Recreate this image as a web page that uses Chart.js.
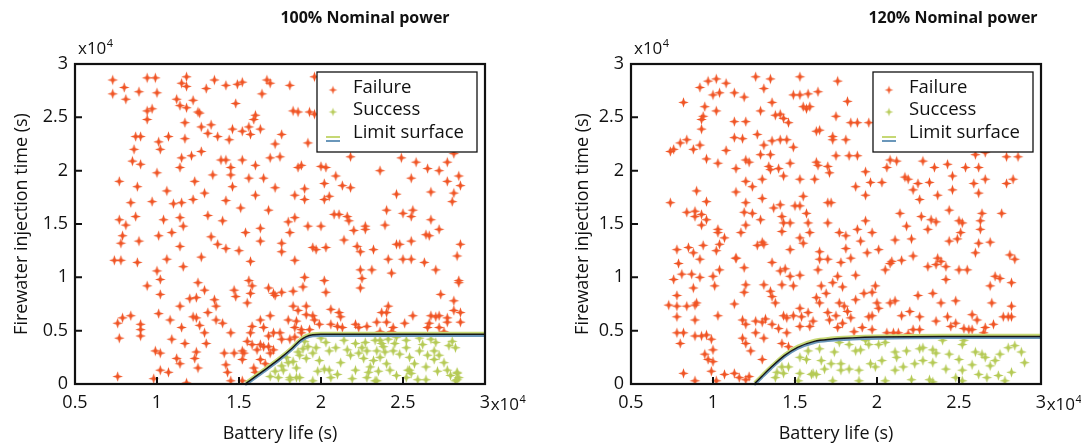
<!DOCTYPE html>
<html>
<head>
<meta charset="utf-8">
<script src="https://cdn.jsdelivr.net/npm/chart.js@4.4.1/dist/chart.umd.min.js"></script>
<style>
  html, body { margin: 0; padding: 0; background: #fff; }
  #wrap { position: relative; width: 1081px; height: 447px; }
  .panel { position: absolute; top: 0; height: 447px; }
</style>
</head>
<body>
<div id="wrap">
  <div class="panel" style="left:0;width:540px"><canvas id="c100"></canvas></div>
  <div class="panel" style="left:540px;width:541px"><canvas id="c120"></canvas></div>
</div>
<script>
// values in units of 1e4 s
const xTickValues = [0.5, 1, 1.5, 2, 2.5, 3];
const yTickValues = [0, 0.5, 1, 1.5, 2, 2.5, 3];
const panelTitles = ['100% Nominal power', '120% Nominal power'];
const seriesLabels = ['Failure', 'Success', 'Limit surface'];

const failure100 = [
  [0.73,2.85],[0.73,2.72],[0.80,2.78],[0.81,2.67],[0.89,2.74],[0.94,2.87],[0.99,2.87],[1.00,2.73],[1.12,2.67],[1.15,2.82],
  [1.18,2.88],[1.18,2.79],[1.14,2.61],[1.18,2.59],[1.22,2.66],[1.30,2.77],[1.35,2.85],[1.42,2.80],[1.48,2.63],[1.52,2.83],
  [1.49,2.81],[1.64,2.72],[1.67,2.85],[1.69,2.82],[1.81,2.80],[1.96,2.88],[1.83,2.56],[1.86,2.55],[1.93,2.55],[1.96,2.53],
  [0.94,2.56],[0.97,2.58],[0.94,2.48],[0.87,2.32],[0.90,2.32],[0.86,2.20],[1.01,2.27],[1.02,2.20],[1.07,2.32],[1.17,2.30],
  [1.17,2.45],[1.25,2.55],[1.26,2.54],[1.27,2.41],[1.33,2.43],[1.31,2.35],[1.37,2.32],[1.44,2.29],[1.46,2.39],[1.52,2.37],
  [1.56,2.41],[1.57,2.34],[1.59,2.48],[1.60,2.52],[1.63,2.39],[1.76,2.34],[1.72,2.25],[1.92,2.26],[1.21,2.14],[1.27,2.18],
  [1.15,2.12],[0.85,2.09],[0.90,2.06],[1.00,1.98],[1.14,2.03],[1.23,1.90],[1.39,2.10],[1.42,2.10],[1.45,2.03],[1.45,1.96],
  [1.52,2.10],[1.46,1.85],[1.34,1.96],[1.56,1.93],[1.60,2.05],[1.65,1.93],[1.69,2.12],[1.75,2.13],[1.72,1.84],[1.86,2.03],
  [1.88,2.05],[2.00,2.04],[2.03,2.03],[2.09,1.95],[2.02,1.88],[2.13,1.86],[2.18,1.84],[2.18,2.13],[2.36,2.00],[2.49,2.12],
  [2.58,2.08],[2.55,1.93],[2.65,2.02],[2.72,2.00],[2.77,2.08],[2.81,2.16],[2.84,1.95],[2.85,1.86],[2.77,1.90],[2.81,1.79],
  [2.80,1.71],[2.67,1.80],[2.46,1.78],[0.77,1.90],[0.88,1.85],
  [0.84,1.70],[0.97,1.71],[1.06,1.81],[1.10,1.69],[1.15,1.70],[1.22,1.73],[1.29,1.79],[1.42,1.72],[1.51,1.65],[1.60,1.77],
  [1.68,1.63],[1.84,1.77],[1.90,1.83],[1.90,1.73],[2.02,1.73],[2.05,1.76],[2.08,1.59],[2.11,1.59],[2.16,1.57],[2.17,1.53],
  [2.20,1.44],[2.27,1.45],[2.27,1.48],[2.40,1.63],[2.39,1.49],[2.50,1.60],[2.55,1.57],[2.56,1.63],[2.67,1.54],[2.72,1.45],
  [2.64,1.40],[2.66,1.39],[2.55,1.34],[2.46,1.31],[2.48,1.31],[2.85,1.31],[0.77,1.54],[0.81,1.49],[0.87,1.57],[0.79,1.39],
  [0.78,1.32],[0.89,1.34],[1.01,1.39],[1.04,1.54],[1.09,1.42],[1.14,1.56],[1.16,1.48],[1.14,1.29],[1.31,1.58],[1.33,1.38],
  [1.37,1.31],[1.40,1.53],[1.42,1.27],[1.50,1.25],[1.54,1.42],[1.63,1.46],[1.63,1.34],[1.76,1.32],[1.76,1.24],[1.80,1.52],
  [1.84,1.56],[1.81,1.42],[1.92,1.48],[2.00,1.48],[1.95,1.28],[1.97,1.26],[2.03,1.28],[2.14,1.35],[2.22,1.29],[2.24,1.24],
  [2.32,1.26],[2.24,1.07],[2.31,1.07],[2.41,1.17],[2.43,1.04],[2.50,1.17],[2.55,1.17],[2.63,1.14],[2.70,1.07],[2.83,1.20],
  [2.25,0.99],[2.24,0.90],[0.74,1.16],[0.78,1.16],[0.88,1.14],[1.06,1.17],[1.16,1.10],[1.27,1.19],[1.57,1.15],[1.84,1.16],
  [1.00,1.06],[1.02,0.98],[1.02,0.84],[0.94,0.92],[1.20,0.80],[1.24,0.81],[1.25,0.95],[1.29,0.88],[1.14,0.73],[1.35,0.79],
  [1.36,0.73],[1.47,0.88],[1.48,0.82],[1.56,0.97],[1.58,0.92],[1.57,0.85],[1.55,0.76],[1.68,0.90],[1.71,0.85],[1.72,0.83],
  [1.76,0.86],[1.83,0.87],[1.90,1.00],[1.89,0.91],[2.02,0.97],[2.03,0.86],[1.83,0.73],[1.86,0.69],[1.91,0.73],[1.91,0.65],
  [1.95,0.64],[1.96,0.60],[2.41,0.73],[2.37,0.67],[2.40,0.67],[2.73,0.84],[2.81,0.78],[2.81,0.69],[2.84,0.97],[2.84,0.95],
  [2.67,0.64],[2.70,0.63],[2.72,0.64],[2.85,0.67],[2.77,0.62],[2.56,0.64],[2.11,0.67],[2.12,0.63],[2.06,0.70],
  [0.76,0.57],[0.79,0.62],[0.84,0.64],[0.90,0.56],[0.90,0.51],[0.90,0.45],[0.77,0.43],[1.01,0.66],[1.08,0.60],[1.09,0.42],
  [1.15,0.53],[1.17,0.38],[1.22,0.63],[1.24,0.62],[1.26,0.55],[1.29,0.48],[1.31,0.67],[1.36,0.60],[1.40,0.57],[1.45,0.48],
  [1.57,0.48],[1.58,0.54],[1.63,0.60],[1.69,0.64],[1.65,0.53],[1.68,0.45],[1.71,0.48],[1.75,0.48],[1.80,0.60],[1.85,0.59],
  [1.84,0.53],[1.88,0.51],[1.88,0.48],[1.93,0.51],[1.99,0.56],[2.06,0.56],[2.10,0.54],[2.13,0.53],[2.21,0.56],[2.23,0.53],
  [2.28,0.54],[2.34,0.58],[2.40,0.58],[2.44,0.53],[2.51,0.57],[2.65,0.53],[2.66,0.57],[2.77,0.58],[2.85,0.58],[2.72,0.53],
  [2.43,0.49],[2.36,0.49],[2.75,0.49],
  [0.99,0.31],[1.02,0.29],[1.12,0.24],[1.14,0.19],[1.02,0.13],[1.07,0.11],[0.98,0.05],[0.76,0.07],[1.18,0.01],[1.24,0.30],
  [1.23,0.24],[1.25,0.15],[1.30,0.38],[1.41,0.29],[1.42,0.18],[1.43,0.11],[1.45,0.03],[1.47,0.29],[1.52,0.31],[1.53,0.29],
  [1.52,0.23],[1.55,0.40],[1.58,0.37],[1.61,0.32],[1.63,0.37],[1.65,0.35],[1.68,0.35],[1.69,0.29],[1.71,0.32],[1.63,0.23],
  [1.66,0.19],[1.59,0.15],[1.60,0.11],[1.52,0.03],[1.76,0.42],[1.81,0.42],[1.84,0.44]
];

const success100 = [
  [1.79,0.25],[1.86,0.30],[1.87,0.27],[1.95,0.29],[2.03,0.39],[2.05,0.31],[1.99,0.22],[2.02,0.14],[2.05,0.13],[1.87,0.06],
  [1.81,0.06],[1.95,0.03],[2.16,0.32],[2.18,0.27],[2.21,0.13],[2.26,0.24],[2.28,0.31],[2.29,0.11],[2.27,0.39],[2.33,0.41],
  [2.34,0.31],[2.36,0.25],[2.36,0.41],[2.32,0.22],[2.44,0.31],[2.45,0.38],[2.52,0.41],[2.52,0.34],[2.54,0.25],[2.53,0.13],
  [2.52,0.06],[2.59,0.04],[2.60,0.31],[2.65,0.27],[2.69,0.31],[2.69,0.23],[2.70,0.39],[2.78,0.36],[2.82,0.34],[2.77,0.13],
  [2.83,0.11],[2.84,0.06],[2.82,0.03],[2.64,0.16],[2.42,0.13],[2.34,0.03],[2.21,0.38],[2.09,0.34],[1.92,0.35],[1.80,0.20],
  [1.77,0.13],[2.40,0.19],[2.46,0.44],[2.60,0.43],[2.06,0.06],[2.28,0.06],[1.76,0.17],[1.74,0.06],[1.72,0.12],[1.81,0.04],
  [1.85,0.15],[1.85,0.06],[1.69,0.07],[1.83,0.21],[1.90,0.40],[1.91,0.24],[1.89,0.33],[2.54,0.13],[2.55,0.10],[2.83,0.10],
  [2.83,0.04],[2.33,0.03],[2.64,0.04],[2.12,0.20],[2.38,0.35],[2.48,0.28],[2.75,0.20],[2.30,0.16],
  [2.23,0.29],[2.25,0.34],[2.37,0.38],[2.39,0.30],[2.41,0.42],[2.62,0.37],[2.67,0.42],[2.72,0.27],[2.80,0.40],[2.14,0.41],
  [1.98,0.12],[2.10,0.09],[2.19,0.05],[2.46,0.08],[2.57,0.19],[2.71,0.12],[2.79,0.08],[2.35,0.12],[2.00,0.43],[1.97,0.34]
];

const failure120 = [
  [0.97,2.84],[1.02,2.86],[1.08,2.82],[0.92,2.78],[1.00,2.71],[1.04,2.73],[0.82,2.64],[0.95,2.60],[0.94,2.51],[0.93,2.48],
  [0.93,2.39],[1.02,2.56],[1.26,2.88],[1.35,2.86],[1.31,2.77],[1.13,2.73],[1.19,2.69],[1.36,2.64],[1.29,2.56],[1.38,2.52],
  [1.43,2.49],[1.41,2.53],[1.46,2.45],[1.49,2.71],[1.53,2.88],[1.53,2.71],[1.58,2.72],[1.64,2.74],[1.55,2.60],[1.59,2.60],
  [1.57,2.58],[1.76,2.84],[1.82,2.65],[1.75,2.51],[1.84,2.45],[1.88,2.45],[1.63,2.37],[1.65,2.38],[1.73,2.32],[1.73,2.29],
  [1.81,2.29],[1.95,2.45],[0.76,2.20],[0.80,2.26],[0.84,2.29],[0.74,2.18],[0.88,2.20],[0.92,2.24],[0.96,2.11],[1.03,2.07],
  [1.08,2.19],[1.13,2.31],[1.18,2.30],[1.13,2.46],[1.20,2.46],[1.14,2.02],[1.20,2.10],[1.22,2.08],[1.27,2.34],[1.29,2.15],
  [1.31,2.24],[1.35,2.15],[1.36,2.28],[1.41,2.29],[1.45,2.29],[1.49,2.22],[1.34,2.04],[1.35,2.01],[1.40,2.02],[1.47,2.07],
  [1.43,1.95],[1.53,1.92],[1.62,1.92],[1.63,2.08],[1.64,2.05],[1.70,2.04],[1.71,1.98],[1.75,2.14],[1.83,2.14],[1.88,2.14],
  [1.87,1.85],[1.93,1.77],[1.93,1.99],[1.96,1.89],[2.03,1.89],[2.06,2.03],[2.08,2.10],[2.12,2.09],[2.17,1.94],[2.19,1.92],
  [2.25,1.88],[2.32,1.89],[2.22,1.82],[2.28,2.09],[2.35,2.03],[2.43,2.06],[2.46,1.95],[2.46,1.82],[2.37,1.77],[2.54,2.03],
  [2.62,2.03],[2.59,1.88],[2.66,1.92],[2.62,1.79],[2.79,1.88],[2.83,1.92],[2.79,2.13],[2.86,2.13],[2.60,2.15],[2.66,2.17],
  [2.26,1.73],[0.74,1.70],[0.84,1.61],[0.89,1.62],[0.89,1.57],[0.93,1.59],[0.90,1.81],[0.96,1.71],[0.96,1.54],[0.93,1.49],
  [1.03,1.45],[1.03,1.42],[1.07,1.37],[1.04,1.31],[1.02,1.25],[0.94,1.30],[0.78,1.26],[0.85,1.28],[0.88,1.23],[0.92,1.17],
  [0.79,1.13],[0.81,1.03],[0.87,1.03],[0.92,1.00],[0.88,0.90],[0.76,0.98],[0.78,0.83],[0.73,0.74],[0.78,0.73],[0.84,0.73],
  [0.89,0.74],[0.90,0.76],[0.78,0.63],[0.89,0.60],[0.78,0.48],[0.82,0.48],[0.80,0.38],[0.89,0.45],[0.93,0.45],[0.96,0.46],
  [0.99,0.42],[0.95,0.28],[0.97,0.23],[1.00,0.32],[1.00,0.21],[0.99,0.12],[1.07,0.09],[1.02,0.03],[0.89,0.03],[0.82,0.10],
  [1.13,0.10],[1.16,0.06],[1.22,0.07],[1.20,0.04],[1.00,1.01],[1.01,0.92],[1.04,1.07],[1.14,1.18],[1.19,1.09],[1.13,0.75],
  [1.03,0.64],[1.20,0.93],[1.19,0.86],[1.18,0.60],[1.18,0.43],[1.20,0.38],[1.23,0.31],[1.26,0.48],[1.26,0.59],[1.20,0.56],
  [1.30,0.58],[1.32,0.61],[1.30,0.23],[1.31,0.43],[1.27,1.30],[1.30,1.33],[1.36,1.14],[1.31,0.93],[1.35,0.87],[1.36,0.82],
  [1.41,1.06],[1.42,0.93],[1.47,1.01],[1.44,1.08],[1.53,1.02],[1.49,0.92],[1.38,0.76],[1.36,0.56],[1.40,0.52],[1.45,0.62],
  [1.43,0.64],[1.45,0.48],[1.42,0.38],[1.46,0.35],[1.49,0.64],[1.53,0.71],[1.54,0.63],[1.53,0.54],[1.58,0.67],[1.59,0.54],
  [1.61,0.59],[1.63,0.81],[1.65,0.76],[1.69,0.85],[1.70,0.67],[1.71,0.60],[1.75,0.64],[1.77,0.76],[1.79,0.57],[1.80,0.73],
  [1.82,0.68],[1.76,0.53],[1.84,0.62],[1.86,0.49],[1.91,0.53],[1.87,0.79],[1.92,0.85],[1.97,0.86],[1.99,0.92],[2.00,0.76],
  [1.95,0.63],[1.97,0.64],[2.01,0.71],[2.08,0.76],[2.11,0.78],[2.15,0.64],[2.20,0.68],[2.22,0.51],[2.26,0.51],[2.19,0.47],
  [2.13,0.48],[2.34,0.85],[2.39,0.76],[2.36,0.59],[2.42,0.98],[2.50,1.07],[2.55,1.07],[2.48,0.78],[2.45,0.54],[2.56,0.51],
  [2.58,0.65],[2.61,0.60],[2.71,0.56],[2.70,0.76],[2.69,0.92],[2.72,1.01],[2.75,0.99],[2.82,0.95],[2.82,0.73],[2.80,0.63],
  [2.82,0.63],[2.76,1.60],[2.69,1.33],[2.81,1.21],[2.84,1.17],[2.62,1.32],[2.60,1.23],[2.51,1.42],[2.52,1.51],[2.50,1.53],
  [2.44,1.34],[2.49,1.36],[2.63,1.53],[2.64,1.60],[2.63,1.45],[2.44,1.63],[2.33,1.54],[2.36,1.52],[2.31,1.45],[2.37,1.18],
  [2.39,1.15],[2.36,1.12],[2.42,1.10],[2.31,1.10],[2.27,1.57],[2.21,1.36],[2.14,1.60],[2.18,1.48],[2.11,1.35],[2.15,1.16],
  [2.22,1.20],[2.09,1.15],[2.01,1.26],[2.05,1.07],[1.97,1.42],[1.93,1.53],[1.88,1.45],[1.90,1.34],[1.81,1.39],[1.77,1.42],
  [1.81,1.27],[1.84,1.18],[1.78,1.14],[1.76,1.01],[1.70,1.17],[1.73,0.95],[1.79,0.91],[1.70,1.51],[1.70,1.70],[1.72,1.70],
  [1.57,1.60],[1.58,1.51],[1.59,1.42],[1.53,1.37],[1.55,1.32],[1.47,1.26],[1.55,1.76],[1.53,1.67],[1.50,1.67],[1.41,1.68],
  [1.37,1.65],[1.42,1.57],[1.43,1.51],[1.42,1.43],[1.47,1.51],[1.30,1.74],[1.29,1.54],[1.24,1.60],[1.20,1.49],[1.19,1.61],
  [1.20,1.70],[1.30,1.92],[1.24,1.85],[1.20,1.90],[1.14,1.80],[1.17,1.42],[1.14,1.18],[1.31,1.31],[1.65,1.24],[1.65,1.17],
  [1.64,1.07],[1.66,0.92],[1.87,1.02],[1.94,1.23],[2.08,1.13],[2.25,0.83],[2.26,0.63],[2.43,0.63],[2.48,0.57],[2.53,0.52],
  [2.58,0.51],[2.65,0.48],[2.77,0.63],[2.66,0.53],[2.06,0.48],[1.97,0.51],[2.10,0.48]
];

const success120 = [
  [1.77,0.39],[1.83,0.37],[1.87,0.31],[1.90,0.32],[1.95,0.37],[1.93,0.41],[2.01,0.37],[2.05,0.39],[2.11,0.30],[2.12,0.25],
  [2.18,0.31],[2.26,0.33],[2.28,0.34],[2.34,0.32],[2.36,0.29],[2.40,0.41],[2.44,0.28],[2.50,0.23],[2.52,0.37],[2.53,0.41],
  [2.60,0.30],[2.64,0.28],[2.66,0.25],[2.75,0.28],[2.80,0.34],[2.84,0.36],[2.72,0.22],[2.69,0.17],[2.62,0.09],[2.67,0.06],
  [2.74,0.08],[2.78,0.03],[2.82,0.11],[2.52,0.13],[2.48,0.06],[2.42,0.14],[2.34,0.20],[2.28,0.22],[2.23,0.19],[2.16,0.16],
  [2.11,0.13],[2.05,0.03],[1.99,0.16],[1.96,0.19],[1.89,0.13],[1.83,0.14],[1.78,0.19],[1.78,0.13],[1.89,0.03],[2.21,0.04],
  [2.34,0.02],[1.39,0.11],[1.38,0.06],[1.46,0.16],[1.53,0.25],[1.57,0.23],[1.58,0.31],[1.65,0.33],[1.66,0.22],[1.60,0.09],
  [1.63,0.09],[1.68,0.14],[1.74,0.30],[1.72,0.19],[1.52,0.03],[1.42,0.16],[1.43,0.10],[1.53,0.10],[1.61,0.10],[1.73,0.03],
  [2.32,0.04],[2.52,0.03],[2.90,0.20],[2.88,0.30],[2.58,0.18],[2.03,0.22]
];

const limit100X = [1.537, 1.65, 1.75, 1.82, 1.87, 1.91, 1.95, 2.0, 3.0];
const limit100Y = [0, 0.125, 0.24, 0.33, 0.405, 0.445, 0.462, 0.466, 0.466];
const limit120X = [1.252, 1.30, 1.354, 1.435, 1.516, 1.618, 1.72, 1.85, 2.0, 2.4, 3.0];
const limit120Y = [0, 0.075, 0.156, 0.266, 0.344, 0.40, 0.42, 0.432, 0.44, 0.446, 0.446];

const FAIL_COLOR = '#F05424';
const SUCC_COLOR = '#B5CA55';
const LIM_GREEN = '#C6D874';
const LIM_BLUE = '#6A97BA';
const LIM_BLACK = '#161616';
const FONT = '"Open Sans", "DejaVu Sans", sans-serif';

Chart.defaults.font.family = FONT;
Chart.defaults.color = '#111';

function makeStar(color, r) {
  const size = Math.ceil(r * 2) + 2;
  const c = document.createElement('canvas');
  c.width = size; c.height = size;
  const g = c.getContext('2d');
  const cx = size / 2, cy = size / 2, ri = r * 0.36;
  g.fillStyle = color;
  g.beginPath();
  for (let k = 0; k < 8; k++) {
    const a = -Math.PI / 2 + k * Math.PI / 4;
    const rr = k % 2 === 0 ? r : ri;
    g.lineTo(cx + rr * Math.cos(a), cy + rr * Math.sin(a));
  }
  g.closePath();
  g.fill();
  return c;
}
const failStar = makeStar(FAIL_COLOR, 5.3);
const succStar = makeStar(SUCC_COLOR, 5.3);
const failStarSmall = makeStar(FAIL_COLOR, 4.2);
const succStarSmall = makeStar(SUCC_COLOR, 4.2);

const toPts = arr => arr.map(([x, y]) => ({ x, y }));
const zipPts = (xs, ys) => xs.map((x, i) => ({ x, y: ys[i] }));

// shift a dataset a pixel or so to get the triple-line look of the limit surface
const shiftPlugin = {
  id: 'shift',
  beforeDatasetDraw(chart, args) {
    const s = chart.data.datasets[args.index].yShift;
    chart.ctx.save();
    if (s) chart.ctx.translate(0, s);
  },
  afterDatasetDraw(chart) { chart.ctx.restore(); }
};

const decorPlugin = {
  id: 'decor',
  afterDatasetsDraw(chart, args, opts) {
    const { ctx, chartArea: a, scales: { x, y } } = chart;
    ctx.save();
    // inward ticks
    ctx.strokeStyle = '#111';
    ctx.lineWidth = 2;
    ctx.beginPath();
    xTickValues.forEach(v => {
      const px = x.getPixelForValue(v);
      ctx.moveTo(px, a.bottom); ctx.lineTo(px, a.bottom - 7);
    });
    yTickValues.forEach(v => {
      const py = y.getPixelForValue(v);
      ctx.moveTo(a.left, py); ctx.lineTo(a.left + 7, py);
    });
    ctx.stroke();
    // frame
    ctx.lineWidth = 2.2;
    ctx.strokeRect(a.left, a.top, a.right - a.left, a.bottom - a.top);

    // legend
    const bw = 160, bh = 80;
    const bx = a.right - 8 - bw, by = a.top + 8;
    ctx.fillStyle = '#fff';
    ctx.fillRect(bx, by, bw, bh);
    ctx.lineWidth = 1.3;
    ctx.strokeStyle = '#111';
    ctx.strokeRect(bx, by, bw, bh);
    ctx.font = '18.5px ' + FONT;
    ctx.fillStyle = '#111';
    ctx.textBaseline = 'middle';
    ctx.textAlign = 'left';
    const mx = bx + 16, tx = bx + 36;
    ctx.drawImage(failStarSmall, mx - failStarSmall.width / 2, by + 18 - failStarSmall.height / 2);
    ctx.fillText(seriesLabels[0], tx, by + 16);
    ctx.drawImage(succStarSmall, mx - succStarSmall.width / 2, by + 40 - succStarSmall.height / 2);
    ctx.fillText(seriesLabels[1], tx, by + 38);
    ctx.lineWidth = 2;
    ctx.strokeStyle = LIM_GREEN;
    ctx.beginPath(); ctx.moveTo(mx - 7, by + 65); ctx.lineTo(mx + 7, by + 65); ctx.stroke();
    ctx.strokeStyle = LIM_BLUE;
    ctx.beginPath(); ctx.moveTo(mx - 7, by + 69); ctx.lineTo(mx + 7, by + 69); ctx.stroke();
    ctx.fillText(seriesLabels[2], tx, by + 61);

    // exponent labels
    const expo = (px, py) => {
      ctx.font = '17px ' + FONT;
      ctx.textAlign = 'left';
      ctx.textBaseline = 'alphabetic';
      ctx.fillText('x10', px, py);
      const w = ctx.measureText('x10').width;
      ctx.font = '11px ' + FONT;
      ctx.fillText('4', px + w + 0.5, py - 7);
    };
    expo(a.left + 3, a.top - 10);
    ctx.font = '18px ' + FONT;
    const w3 = ctx.measureText('3').width;
    expo(x.getPixelForValue(3) + w3 / 2 + 0.5, a.bottom + 26);

    // panel title
    ctx.font = 'bold 16px ' + FONT;
    ctx.textAlign = 'center';
    ctx.textBaseline = 'middle';
    ctx.fillStyle = '#111';
    ctx.fillText(opts.title, opts.titleX, 18);
    ctx.restore();
  }
};

function buildChart(id, fail, succ, limX, limY, cfg) {
  const lim = zipPts(limX, limY);
  const lineDs = (color, width, shift, order) => ({
    data: lim, showLine: true, pointRadius: 0, borderColor: color,
    borderWidth: width, yShift: shift, order, cubicInterpolationMode: 'monotone'
  });
  return new Chart(document.getElementById(id), {
    type: 'scatter',
    data: {
      datasets: [
        { label: seriesLabels[0], data: toPts(fail), pointStyle: failStar, pointRadius: 5, order: 5 },
        { label: seriesLabels[1], data: toPts(succ), pointStyle: succStar, pointRadius: 5, order: 4 },
        lineDs(LIM_GREEN, 2.4, -1.4, 2),
        lineDs(LIM_BLUE, 2.4, 1.4, 1),
        lineDs(LIM_BLACK, 1.4, 0, 0)
      ]
    },
    options: {
      responsive: true,
      maintainAspectRatio: false,
      animation: false,
      events: [],
      layout: { padding: { left: 0, right: cfg.padRight, top: 64, bottom: 0 } },
      plugins: {
        legend: { display: false },
        tooltip: { enabled: false },
        decor: { title: cfg.title, titleX: cfg.titleX }
      },
      scales: {
        x: {
          type: 'linear', min: 0.5, max: 3,
          afterBuildTicks: s => { s.ticks = xTickValues.map(v => ({ value: v })); },
          afterFit: s => { s.height = 63; },
          grid: { display: false, drawTicks: false },
          border: { display: false },
          ticks: { font: { size: 18 }, color: '#111', padding: 8, maxRotation: 0,
                   callback: v => String(v) },
          title: { display: true, text: 'Battery life (s)', font: { size: 18 }, color: '#111',
                   padding: { top: 0, bottom: 2 } }
        },
        y: {
          type: 'linear', min: 0, max: 3,
          afterBuildTicks: s => { s.ticks = yTickValues.map(v => ({ value: v })); },
          afterFit: s => { s.width = cfg.yWidth; },
          grid: { display: false, drawTicks: false },
          border: { display: false },
          ticks: { font: { size: 18 }, color: '#111', padding: 7, callback: v => String(v) },
          title: { display: true, text: 'Firewater injection time (s)', font: { size: 18 }, color: '#111',
                   padding: { top: cfg.yTitlePad, bottom: 0 } }
        }
      }
    },
    plugins: [shiftPlugin, decorPlugin]
  });
}

buildChart('c100', failure100, success100, limit100X, limit100Y,
  { padRight: 55, yWidth: 75, yTitlePad: 11, title: panelTitles[0], titleX: 365 });
buildChart('c120', failure120, success120, limit120X, limit120Y,
  { padRight: 40, yWidth: 91, yTitlePad: 32, title: panelTitles[1], titleX: 413 });
</script>
</body>
</html>
